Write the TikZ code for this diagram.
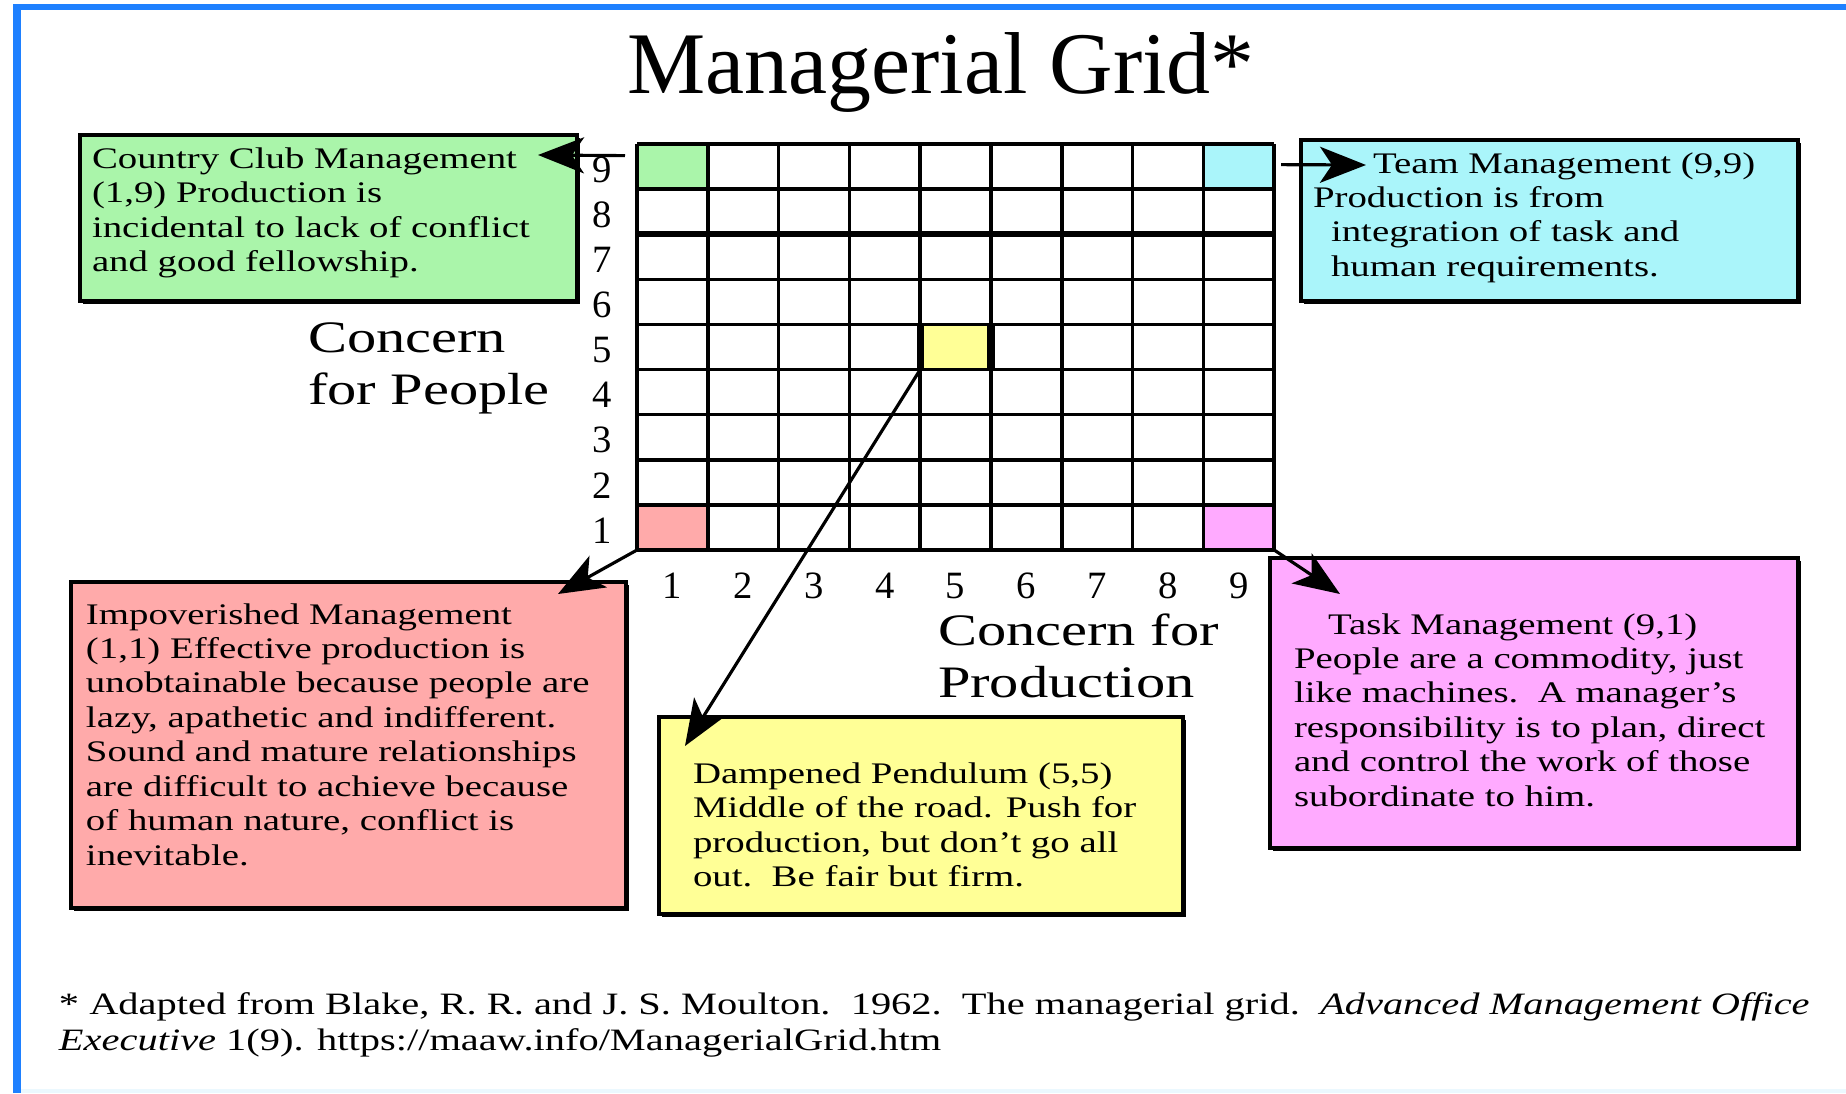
\documentclass[tikz,border=0pt]{standalone}
\usepackage{fontspec}
\setmainfont{Liberation Serif}[FakeStretch=1.3]
\newfontfamily\plainserif{Liberation Serif}
\usetikzlibrary{arrows.meta,positioning,shadows}
\definecolor{frameblue} {RGB}{30, 128, 255}
\definecolor{clubgreen} {RGB}{170, 245, 170}
\definecolor{teamcyan}  {RGB}{170, 245, 250}
\definecolor{imppink}   {RGB}{255, 170, 170}
\definecolor{pendyellow}{RGB}{255, 255, 150}
\definecolor{taskmag}   {RGB}{255, 170, 255}

\begin{document}
\begin{tikzpicture}[
  every node/.style={inner sep=0pt,outer sep=0pt},
  mbox/.style={draw=black,line width=1.2pt,
               drop shadow={shadow xshift=0.8pt,shadow yshift=-0.8pt,
                            fill=black,opacity=1}},
  mtext/.style={align=left,anchor=west,font=\fontsize{8.5}{9.8}\selectfont},
  axtitle/.style={align=left,anchor=west,font=\fontsize{12.8}{14.8}\selectfont},
  numlbl/.style={font=\plainserif\fontsize{11}{13}\selectfont},
  cell/.style={minimum width=\cw cm,minimum height=\rh cm,anchor=south west},
  gline/.style={line width=1pt},
  arr/.style={line width=0.9pt,-{Stealth[length=0.46cm,width=0.36cm,inset=0.12cm]}},
]

%% Page and frame
\useasboundingbox (0,0) rectangle (18.46,10.93);
\fill[white] (0,0) rectangle (18.46,10.93);
\draw[frameblue,line width=0.08cm] (0.17,0) -- (0.17,10.86);
\draw[frameblue,line width=0.06cm] (0.13,10.86) -- (18.46,10.86);
\draw[cyan!8,line width=0.04cm] (0.21,0.02) -- (18.46,0.02);

%% Title
\node[font=\plainserif\fontsize{25}{30}\selectfont,anchor=base] (title)
  at (9.41,9.99) {Managerial Grid*};

%% Grid size and origin
\def\cw{0.708}
\def\rh{0.451}
\def\gx{6.37}
\def\gy{5.43}

%% Corner and centre cells
\node[cell,fill=clubgreen]  (c19) at (\gx,\gy+8*\rh) {};
\node[cell,fill=teamcyan]   (c99) at (\gx+8*\cw,\gy+8*\rh) {};
\node[cell,fill=imppink]    (c11) at (\gx,\gy) {};
\node[cell,fill=taskmag]    (c91) at (\gx+8*\cw,\gy) {};
\node[cell,fill=pendyellow] (c55) at (\gx+4*\cw,\gy+4*\rh) {};

%% Grid lines
\foreach \i in {0,...,9} {
  \draw[gline] (\gx+\i*\cw,\gy) -- (\gx+\i*\cw,\gy+9*\rh);
  \draw[gline] (\gx,\gy+\i*\rh) -- (\gx+9*\cw,\gy+\i*\rh);
}
\draw[line width=1.6pt] (\gx,\gy+7*\rh) -- (\gx+9*\cw,\gy+7*\rh);
\draw[line width=2pt] (c55.south west) -- (c55.north west)
                      (c55.south east) -- (c55.north east);

%% Scale numbers
\foreach \k in {1,...,9} {
  \node[numlbl] (y\k) at (6.02,\gy+\k*\rh-0.5*\rh-0.03) {\k};
  \node[numlbl] (x\k) at (\gx+\k*\cw-0.5*\cw,5.07) {\k};
}

%% Axis titles
\node[axtitle] (people) at (3.08,7.245) {Concern\\for People};
\node[axtitle] (prod)   at (9.38,4.375) {Concern for\\Production};

%% Style boxes
\node[mbox,fill=clubgreen,minimum width=4.97cm,minimum height=1.66cm] (club)
  at (3.285,8.75) {};
\node[mtext] (clubtxt) at ([xshift=0.12cm,yshift=0.05cm]club.west)
  {Country Club Management\\(1,9) Production is\\
   incidental to lack of conflict\\and good fellowship.};

\node[mbox,fill=teamcyan,minimum width=4.97cm,minimum height=1.61cm] (team)
  at (15.495,8.725) {};
\node[mtext] (teamtxt) at ([xshift=0.12cm,yshift=0.03cm]team.west)
  {\hspace*{0.6cm}Team Management (9,9)\\Production is from\\
   \hspace*{0.18cm}integration of task and\\\hspace*{0.18cm}human requirements.};

\node[mbox,fill=imppink,minimum width=5.55cm,minimum height=3.26cm] (imp)
  at (3.485,3.48) {};
\node[mtext] (imptxt) at ([xshift=0.15cm,yshift=0.105cm]imp.west)
  {Impoverished Management\\(1,1) Effective production is\\
   unobtainable because people are\\lazy, apathetic and indifferent.\\
   Sound and mature relationships\\are difficult to achieve because\\
   of human nature, conflict is\\inevitable.};

\node[mbox,fill=pendyellow,minimum width=5.24cm,minimum height=1.97cm] (pend)
  at (9.21,2.775) {};
\node[mtext] (pendtxt) at ([xshift=0.34cm,yshift=-0.095cm]pend.west)
  {Dampened Pendulum (5,5)\\Middle of the road. Push for\\
   production, but don’t go all\\out.\ \ Be fair but firm.};

\node[mbox,fill=taskmag,minimum width=5.28cm,minimum height=2.90cm] (task)
  at (15.34,3.90) {};
\node[mtext] (tasktxt) at ([xshift=0.24cm,yshift=-0.07cm]task.west)
  {\hspace*{0.34cm}Task Management (9,1)\\People are a commodity, just\\
   like machines.\ \ A manager’s\\responsibility is to plan, direct\\
   and control the work of those\\subordinate to him.};

%% Arrows from the grid cells
\draw[arr] ([xshift=-0.12cm,yshift=0.11cm]c19.west)
  -- ([xshift=-0.39cm,yshift=0.63cm]club.east);
\draw[arr] ([xshift=0.07cm,yshift=0.02cm]c99.east)
  -- ([xshift=0.65cm,yshift=0.555cm]team.west);
\draw[arr] (c11.south west) -- ([xshift=-0.68cm,yshift=-0.12cm]imp.north east);
\draw[arr] (c55.south west) -- ([xshift=0.26cm,yshift=-0.29cm]pend.north west);
\draw[arr] (c91.south east) -- ([xshift=0.70cm,yshift=-0.36cm]task.north west);

%% Source note
\node[align=left,anchor=west,font=\fontsize{8.85}{10.2}\selectfont] (note)
  at (0.59,0.68)
  {* Adapted from Blake, R. R. and J. S. Moulton.\ \ 1962.\ \ The managerial grid.\ \
   \textit{Advanced Management Office}\\
   \textit{Executive} 1(9). https://maaw.info/ManagerialGrid.htm};

\end{tikzpicture}
\end{document}
